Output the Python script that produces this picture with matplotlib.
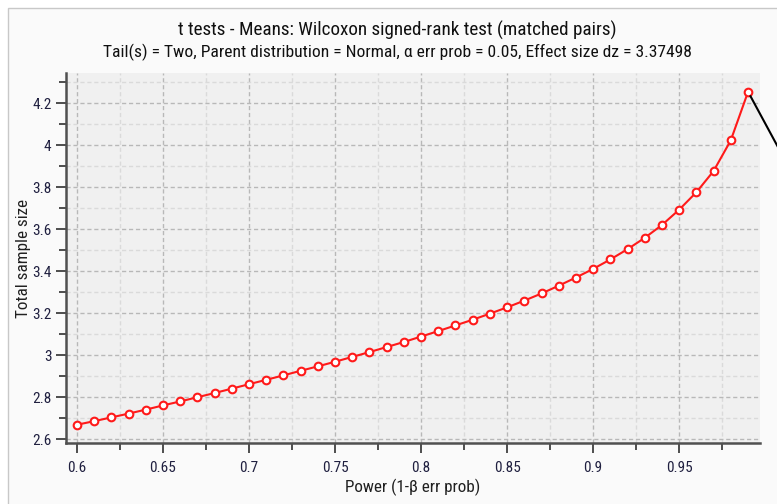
import numpy as np
import matplotlib
matplotlib.use("Agg")
import matplotlib.pyplot as plt
from matplotlib.ticker import MultipleLocator, FuncFormatter
from matplotlib.patches import Rectangle
from matplotlib import font_manager

power = [0.60, 0.61, 0.62, 0.63, 0.64, 0.65, 0.66, 0.67, 0.68, 0.69,
         0.70, 0.71, 0.72, 0.73, 0.74, 0.75, 0.76, 0.77, 0.78, 0.79,
         0.80, 0.81, 0.82, 0.83, 0.84, 0.85, 0.86, 0.87, 0.88, 0.89,
         0.90, 0.91, 0.92, 0.93, 0.94, 0.95, 0.96, 0.97, 0.98, 0.99]
sample_size = [2.668, 2.685, 2.703, 2.721, 2.740, 2.760, 2.779, 2.799, 2.819, 2.840,
               2.861, 2.882, 2.903, 2.925, 2.946, 2.968, 2.991, 3.014, 3.038, 3.062,
               3.088, 3.114, 3.141, 3.168, 3.197, 3.227, 3.259, 3.293, 3.330, 3.369,
               3.410, 3.455, 3.504, 3.558, 3.619, 3.692, 3.775, 3.876, 4.022, 4.252]

title = "t tests - Means: Wilcoxon signed-rank test (matched pairs)"
subtitle = ("Tail(s) = Two, Parent distribution = Normal, \u03b1 err prob = 0.05, "
            "Effect size dz = 3.37498")

names = {f.name for f in font_manager.fontManager.ttflist}
narrow = [n for n in ['DejaVu Sans Condensed', 'Liberation Sans Narrow', 'Roboto Condensed',
                      'Open Sans Condensed'] if n in names]
plt.rcParams['font.family'] = narrow[:1] + ['DejaVu Sans']

fig = plt.figure(figsize=(7.77, 5.04), dpi=100)
fig.patch.set_facecolor('#ffffff')
frame = Rectangle((8 / 777, -0.1), 1.2, 1 - 8 / 504 + 0.1,
                  transform=fig.transFigure, facecolor='#fafafa',
                  edgecolor='#c8c8c8', linewidth=1, zorder=-5)
fig.add_artist(frame)

ax = fig.add_axes([66 / 777, 61 / 504, (760 - 66) / 777, (443 - 73) / 504])
ax.set_facecolor('#f0f0f0')

ax.plot(power, sample_size, color='#ff1a1a', linewidth=1.5, marker='o',
        markersize=5.5, markerfacecolor='white', markeredgecolor='#ff1a1a',
        markeredgewidth=1.5, zorder=3)
# stray connector leaving the frame at the last point
ax.plot([power[-1] + 0.0015, power[-1] + 0.03], [sample_size[-1] - 0.02, 3.80],
        color='black', linewidth=1.5, clip_on=False, zorder=4)

ax.set_xlim(0.5936, 0.997)
ax.set_ylim(2.581, 4.343)

ax.xaxis.set_major_locator(MultipleLocator(0.05))
ax.xaxis.set_minor_locator(MultipleLocator(0.025))
ax.yaxis.set_major_locator(MultipleLocator(0.2))
ax.yaxis.set_minor_locator(MultipleLocator(0.1))
ax.xaxis.set_major_formatter(FuncFormatter(lambda v, p: ('%.2f' % v).rstrip('0').rstrip('.')))
ax.yaxis.set_major_formatter(FuncFormatter(lambda v, p: ('%.1f' % v).rstrip('0').rstrip('.')))

ax.grid(which='major', color='#b8b8b8', linestyle=(0, (3, 2)), linewidth=1)
ax.grid(which='minor', color='#dadada', linestyle=(0, (3, 2)), linewidth=1)
ax.set_axisbelow(True)

for s in ['top', 'right']:
    ax.spines[s].set_visible(False)
for s in ['left', 'bottom']:
    ax.spines[s].set_color('#505050')
    ax.spines[s].set_linewidth(1.8)

ax.tick_params(which='major', length=7, width=1.2, color='#303030',
               labelsize=11, labelcolor='#202040', direction='out')
ax.tick_params(which='minor', length=5, width=1.2, color='#303030', direction='out')
ax.tick_params(axis='x', pad=6)

ax.set_xlabel("Power (1-\u03b2 err prob)", fontsize=12.3, color='#202020', labelpad=3)
ax.set_ylabel("Total sample size", fontsize=12.3, color='#202020', labelpad=1)

fig.text(0.511, 1 - 30 / 504, title, ha='center', va='center', fontsize=13.8,
         color='#101010')
fig.text(0.511, 1 - 52 / 504, subtitle, ha='center', va='center', fontsize=12.6,
         color='#101010')

fig.savefig('out.png', dpi=100)
